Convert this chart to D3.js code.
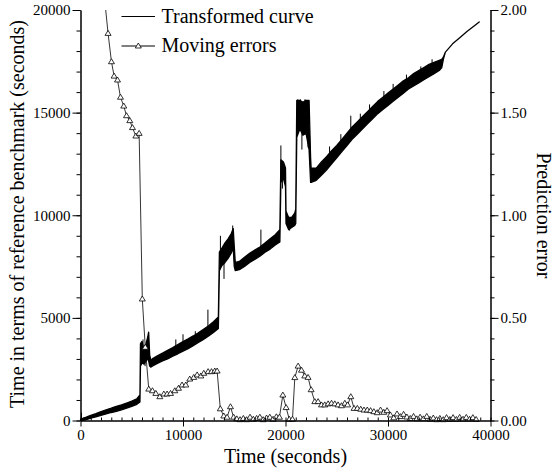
<!DOCTYPE html>
<html><head><meta charset="utf-8">
<script src="https://cdn.jsdelivr.net/npm/d3@7"></script>
<style>
body{margin:0;background:#fff}
svg{display:block}
text{font-family:"Liberation Serif","Times New Roman",serif;fill:#000}
</style>
</head><body>
<svg id="c" width="555" height="469"></svg>
<script>
// ---- Transformed curve: time, band low, band high (seconds of reference benchmark)
const curveT  = [0,250,500,1000,1500,2000,2500,3000,3500,4000,4500,5000,5500,5800,5850,6000,6200,6400,6550,6650,6750,6850,7000,7500,8000,8500,9000,9500,10000,10500,11000,11500,12000,12500,13000,13450,13550,13800,14100,14400,14700,14900,15000,15100,15500,16000,16500,17000,17500,18000,18500,19000,19450,19550,19800,20000,20050,20300,20600,20900,21000,21100,21400,21700,22000,22300,22450,22500,23000,23500,24000,24500,25000,25500,26000,26500,27000,27500,28000,28500,29000,29500,30000,30500,31000,31500,32000,32500,33000,33500,34000,34500,35000,35250,35400,35600,36300,37000,37700,38400,38900];
const curveLo = [0,10,30,110,180,250,320,390,450,520,600,690,790,900,2650,2800,2750,2900,3000,2900,2650,2600,2650,2780,2900,3000,3130,3250,3380,3500,3650,3800,3950,4120,4300,4480,7300,7550,7700,7900,8150,8400,7500,7300,7350,7500,7700,7850,8000,8200,8350,8550,8700,11600,11800,11400,9600,9300,9400,9500,9600,13800,14200,13900,14000,13200,11600,11600,11700,11950,12200,12500,12800,13100,13400,13700,13950,14200,14450,14700,14950,15150,15350,15550,15750,15950,16150,16300,16450,16600,16750,16900,17050,17200,17600,17950,18350,18650,18950,19220,19420];
const curveHi = [30,110,150,250,330,430,520,600,690,760,850,940,1060,1250,3750,3850,3450,3750,4050,4300,3200,2950,3000,3150,3280,3420,3550,3700,3850,3980,4120,4270,4450,4620,4820,5050,8200,8400,8650,8850,9100,9350,8500,7700,7750,7950,8150,8300,8450,8650,8850,9050,9300,12700,12600,12300,10200,9900,9900,10100,10300,15600,15600,15500,15600,15600,12800,12300,12300,12600,12850,13150,13400,13700,14000,14300,14550,14800,15050,15300,15550,15750,15950,16150,16350,16550,16700,16900,17050,17200,17350,17450,17550,17600,17700,17950,18350,18650,18950,19220,19420];
// isolated spikes of the transformed curve
const spikeT    = [100,6100,6300,9300,10000,11200,12430,13650,14000,14850,17600,19550,19700,20400,21200,21450,21600,21900,22200,24300,25400,26370,27300,28200,29600,30500,31800,33200,34300];
const spikeFrom = [0,3300,3300,3500,3800,3950,4500,7800,7800,9000,8300,12000,12000,9800,15000,15000,14000,15000,14200,12900,13500,14100,14500,15000,15600,16000,16500,16900,17200];
const spikeTo   = [380,3950,2650,3950,4200,4350,5400,9000,6900,9500,9300,13400,11300,9250,15650,15650,13200,15650,13300,13350,13950,14850,14950,15400,16050,16400,16850,17250,17600];

// ---- Moving errors (prediction error)
const errT = [2050,2380,2690,3020,3280,3610,3900,4220,4490,4810,5070,5400,5720,6030,6320,6660,7020,7350,7740,8130,8450,8780,9200,9560,9910,10270,10660,11050,11380,11740,12030,12450,12780,13100,13330,13640,13980,14300,14630,14940,15250,15570,15890,16210,16540,16860,17180,17500,17820,18150,18470,18790,19110,19410,19740,20060,20370,20680,20910,21230,21560,21880,22200,22500,22860,23180,23510,23830,24160,24490,24810,25130,25460,25790,26060,26370,26690,27010,27340,27660,27980,28300,28620,28950,29270,29590,29910,30230,30560,30880,31200,31520,31840,32170,32490,32810,33130,33450,33780,34100,34420,34740,35060,35390,35710,36030,36350,36670,36990,37320,37640,37960,38280,38600];
const errV = [2.30,2.04,1.886,1.748,1.678,1.659,1.575,1.532,1.485,1.461,1.427,1.386,1.399,0.592,0.357,0.153,0.145,0.132,0.116,0.129,0.129,0.132,0.145,0.157,0.173,0.173,0.202,0.210,0.222,0.217,0.230,0.238,0.238,0.241,0.241,0.057,0.022,0.016,0.067,0.016,0.008,0.004,0.010,0.004,0.016,0.006,0.010,0.016,0.004,0.012,0.016,0.006,0.018,0.016,0.124,0.063,0.006,0.006,0.209,0.265,0.245,0.217,0.210,0.150,0.092,0.092,0.076,0.076,0.081,0.084,0.081,0.076,0.072,0.084,0.076,0.116,0.059,0.059,0.055,0.051,0.051,0.048,0.043,0.038,0.051,0.040,0.048,0.027,0.013,0.032,0.019,0.030,0.017,0.010,0.020,0.008,0.016,0.008,0.020,0.006,0.012,0.004,0.010,0.004,0.014,0.005,0.014,0.005,0.015,0.006,0.015,0.006,0.014,0.005];

// ---- ticks and labels
const xTicks = [0,10000,20000,30000,40000];
const yLeftTicks = [0,5000,10000,15000,20000];
const yRightTicks = [0,0.5,1.0,1.5,2.0];
const legendLabels = ["Transformed curve","Moving errors"];
const xTitle = "Time (seconds)";
const yLeftTitle = "Time in terms of reference benchmark (seconds)";
const yRightTitle = "Prediction error";

const svg = d3.select("#c");
const L = 80.5, R = 490.5, T = 10, B = 420.5;
const x = d3.scaleLinear().domain([0,40000]).range([L,R]);
const yL = d3.scaleLinear().domain([0,20000]).range([B,T]);
const yR = d3.scaleLinear().domain([0,2]).range([B,T]);

svg.append("defs").append("clipPath").attr("id","clip")
  .append("rect").attr("x",L).attr("y",T).attr("width",R-L+10).attr("height",469-T);

// curve band
const rows = curveT.map((t,i)=>({t, lo:curveLo[i], hi:curveHi[i]}));
const area = d3.area().x(d=>x(d.t)).y0(d=>yL(d.lo)).y1(d=>yL(d.hi));
svg.append("path").datum(rows).attr("d",area)
  .attr("fill","#000").attr("stroke","#000").attr("stroke-width",1.3).attr("stroke-linejoin","round");
svg.append("g").selectAll("line").data(spikeT).join("line")
  .attr("x1",d=>x(d)).attr("x2",d=>x(d))
  .attr("y1",(d,i)=>yL(spikeFrom[i])).attr("y2",(d,i)=>yL(spikeTo[i]))
  .attr("stroke","#000").attr("stroke-width",1);

// moving errors
const pts = errT.map((t,i)=>({t, v:errV[i]}));
const gE = svg.append("g").attr("clip-path","url(#clip)");
gE.append("path").datum(pts).attr("d", d3.line().x(d=>x(d.t)).y(d=>yR(d.v)))
  .attr("fill","none").attr("stroke","#000").attr("stroke-width",0.8);
const tri = "M0,-3L3,2L-3,2Z";
gE.selectAll("path.m").data(pts).join("path").attr("class","m")
  .attr("d",tri).attr("transform",d=>`translate(${x(d.t)},${yR(d.v)})`)
  .attr("fill","#fff").attr("stroke","#000").attr("stroke-width",0.8);

// axes
function style(g){ g.selectAll("path,line").attr("stroke","#000"); g.selectAll("text").style("font-family",'"Liberation Serif","Times New Roman",serif').style("font-size","15px").attr("fill","#000"); }
const minorX = d3.range(0,40001,1000);
const minorY = d3.range(0,20001,1000);
const minorR = d3.range(0,2.0001,0.1);
svg.append("g").attr("transform",`translate(0,${B})`)
  .call(d3.axisBottom(x).tickValues(minorX).tickSize(-3).tickSizeOuter(0).tickFormat(""))
  .call(style);
svg.append("g").attr("transform",`translate(0,${B})`)
  .call(d3.axisBottom(x).tickValues(xTicks).tickSize(6).tickSizeOuter(0).tickPadding(3).tickFormat(d3.format("d")))
  .call(style);
svg.append("g").attr("transform",`translate(${L},0)`)
  .call(d3.axisLeft(yL).tickValues(minorY).tickSize(4).tickSizeOuter(0).tickFormat(""))
  .call(style);
svg.append("g").attr("transform",`translate(${L},0)`)
  .call(d3.axisLeft(yL).tickValues(yLeftTicks).tickSize(8).tickSizeOuter(0).tickPadding(2).tickFormat(d3.format("d")))
  .call(style);
svg.append("g").attr("transform",`translate(${R},0)`)
  .call(d3.axisRight(yR).tickValues(minorR).tickSize(4).tickSizeOuter(0).tickFormat(""))
  .call(style);
svg.append("g").attr("transform",`translate(${R},0)`)
  .call(d3.axisRight(yR).tickValues(yRightTicks).tickSize(8).tickSizeOuter(0).tickPadding(2).tickFormat(d3.format(".2f")))
  .call(style);

// titles
svg.append("text").attr("x",(L+R)/2).attr("y",463).attr("text-anchor","middle").style("font-size","20px").text(xTitle);
svg.append("text").attr("transform","translate(23.5,214) rotate(-90)").attr("text-anchor","middle").style("font-size","20px").text(yLeftTitle);
svg.append("text").attr("transform","translate(537,215.5) rotate(90)").attr("text-anchor","middle").style("font-size","20px").text(yRightTitle);

// legend
const lg = svg.append("g");
[0,1].forEach(i=>{
  const yy = i===0 ? 16.5 : 46;
  lg.append("line").attr("x1",121.5).attr("x2",155).attr("y1",yy).attr("y2",yy).attr("stroke","#000").attr("stroke-width",1);
  if(i===1) lg.append("path").attr("d",tri).attr("transform",`translate(138.3,${yy})`).attr("fill","#fff").attr("stroke","#000").attr("stroke-width",0.8);
  lg.append("text").attr("x",161.5).attr("y",yy+6).style("font-size","20px").text(legendLabels[i]);
});
</script>
</body></html>
